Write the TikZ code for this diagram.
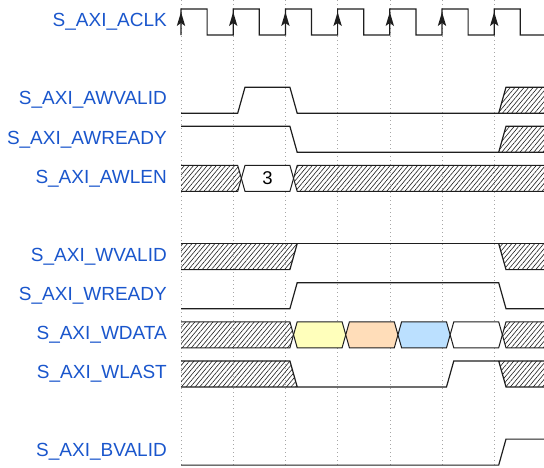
\documentclass[tikz,border=0pt]{standalone}
\usepackage{fontspec}
\setmainfont{Liberation Sans}
\usetikzlibrary{patterns.meta}
\definecolor{lblblue}{RGB}{26,86,204}
\definecolor{wy}{RGB}{255,255,187}
\definecolor{wp}{RGB}{255,221,185}
\definecolor{wb}{RGB}{187,224,255}
\definecolor{wline}{RGB}{30,30,30}
\begin{document}
\begin{tikzpicture}[x=1pt,y=-1pt,
  wave/.style={draw=wline,line width=1.2pt,line join=miter},
  hatch/.style={pattern={Lines[angle=50,distance=3.5pt,line width=0.6pt]},pattern color=wline},
  busline/.style={draw=wline,line width=1pt,line join=miter},
  gridline/.style={draw=black!35,line width=0.6pt,dash pattern=on 1pt off 3pt},
  lbl/.style={anchor=east,inner sep=0pt,text=lblblue,font=\fontsize{19}{21}\selectfont},
  val/.style={inner sep=0pt,text=black,font=\fontsize{18.5}{20}\selectfont}]
\useasboundingbox (0,0) rectangle (544,467);
% grid
\foreach \x in {181,233.2,285.4,337.6,389.8,442,494.2}
  \draw[gridline] (\x,0) -- (\x,467);
% labels
\node[lbl] (lclk) at (167,22) {S\_AXI\_ACLK};
\node[lbl] (lawv) at (167,100.2) {S\_AXI\_AWVALID};
\node[lbl] (lawr) at (167,139.3) {S\_AXI\_AWREADY};
\node[lbl] (lawl) at (167,178.4) {S\_AXI\_AWLEN};
\node[lbl] (lwv) at (167,256.6) {S\_AXI\_WVALID};
\node[lbl] (lwr) at (167,295.7) {S\_AXI\_WREADY};
\node[lbl] (lwd) at (167,334.8) {S\_AXI\_WDATA};
\node[lbl] (lwl) at (167,373.9) {S\_AXI\_WLAST};
\node[lbl] (lbv) at (167,452.1) {S\_AXI\_BVALID};
% clock
\draw[wave] (181,35) -- (181,9)
  \foreach \e in {181,233.2,285.4,337.6,389.8,442,494.2} {
    -- (\e,9) -- ({\e+26.1},9) -- ({\e+26.1},35) -- ({\e+52.2},35) }
  ;
\fill[white] (544,0) rectangle (560,40);
\foreach \e in {181,233.2,285.4,337.6,389.8,442,494.2}
  \fill[wline] (\e,12) -- ({\e+4.2},26) -- (\e,23) -- ({\e-4.2},26) -- cycle;
% AWVALID
\draw[wave] (181,113.2) -- (237.7,113.2) -- (245,87.2) -- (289.9,87.2) -- (297.2,113.2) -- (544,113.2);
\fill[hatch] (498.7,113.2) -- (506,87.2) -- (544,87.2) -- (544,113.2) -- cycle;
\draw[wave] (498.7,113.2) -- (506,87.2) -- (544,87.2);
% AWREADY
\draw[wave] (181,126.3) -- (289.9,126.3) -- (297.2,152.3) -- (544,152.3);
\fill[hatch] (498.7,152.3) -- (506,126.3) -- (544,126.3) -- (544,152.3) -- cycle;
\draw[wave] (498.7,152.3) -- (506,126.3) -- (544,126.3);
% AWLEN
\fill[hatch] (181,165.4) -- (237.7,165.4) -- (241.35,178.4) -- (237.7,191.4) -- (181,191.4) -- cycle;
\draw[busline] (181,165.4) -- (237.7,165.4) -- (241.35,178.4) -- (237.7,191.4) -- (181,191.4);
\draw[busline,fill=white] (241.35,178.4) -- (245,165.4) -- (289.9,165.4) -- (293.55,178.4) -- (289.9,191.4) -- (245,191.4) -- cycle;
\node[val] (v3) at (267.5,178.4) {3};
\fill[hatch] (293.55,178.4) -- (297.2,165.4) -- (544,165.4) -- (544,191.4) -- (297.2,191.4) -- cycle;
\draw[busline] (544,165.4) -- (297.2,165.4) -- (293.55,178.4) -- (297.2,191.4) -- (544,191.4);
% WVALID
\fill[hatch] (181,243.6) -- (297.2,243.6) -- (289.9,269.6) -- (181,269.6) -- cycle;
\draw[wave] (181,269.6) -- (289.9,269.6) -- (297.2,243.6);
\draw[wave] (181,243.6) -- (544,243.6);
\fill[hatch] (498.7,243.6) -- (544,243.6) -- (544,269.6) -- (506,269.6) -- cycle;
\draw[wave] (498.7,243.6) -- (506,269.6) -- (544,269.6);
% WREADY
\draw[wave] (181,308.7) -- (289.9,308.7) -- (297.2,282.7) -- (498.7,282.7) -- (506,308.7) -- (544,308.7);
% WDATA
\fill[hatch] (181,321.8) -- (289.9,321.8) -- (293.55,334.8) -- (289.9,347.8) -- (181,347.8) -- cycle;
\draw[busline] (181,321.8) -- (289.9,321.8) -- (293.55,334.8) -- (289.9,347.8) -- (181,347.8);
\draw[busline,fill=wy] (293.55,334.8) -- (297.2,321.8) -- (342.1,321.8) -- (345.75,334.8) -- (342.1,347.8) -- (297.2,347.8) -- cycle;
\draw[busline,fill=wp] (345.75,334.8) -- (349.4,321.8) -- (394.3,321.8) -- (397.95,334.8) -- (394.3,347.8) -- (349.4,347.8) -- cycle;
\draw[busline,fill=wb] (397.95,334.8) -- (401.6,321.8) -- (446.5,321.8) -- (450.15,334.8) -- (446.5,347.8) -- (401.6,347.8) -- cycle;
\draw[busline,fill=white] (450.15,334.8) -- (453.8,321.8) -- (498.7,321.8) -- (502.35,334.8) -- (498.7,347.8) -- (453.8,347.8) -- cycle;
\fill[hatch] (502.35,334.8) -- (506,321.8) -- (544,321.8) -- (544,347.8) -- (506,347.8) -- cycle;
\draw[busline] (544,321.8) -- (506,321.8) -- (502.35,334.8) -- (506,347.8) -- (544,347.8);
% WLAST
\fill[hatch] (181,360.9) -- (289.9,360.9) -- (297.2,386.9) -- (181,386.9) -- cycle;
\draw[wave] (181,360.9) -- (289.9,360.9) -- (297.2,386.9);
\draw[wave] (181,386.9) -- (446.5,386.9) -- (453.8,360.9) -- (544,360.9);
\fill[hatch] (498.7,360.9) -- (544,360.9) -- (544,386.9) -- (506,386.9) -- cycle;
\draw[wave] (498.7,360.9) -- (506,386.9) -- (544,386.9);
% BVALID
\draw[wave] (181,465.1) -- (498.7,465.1) -- (506,439.1) -- (544,439.1);
\end{tikzpicture}
\end{document}
